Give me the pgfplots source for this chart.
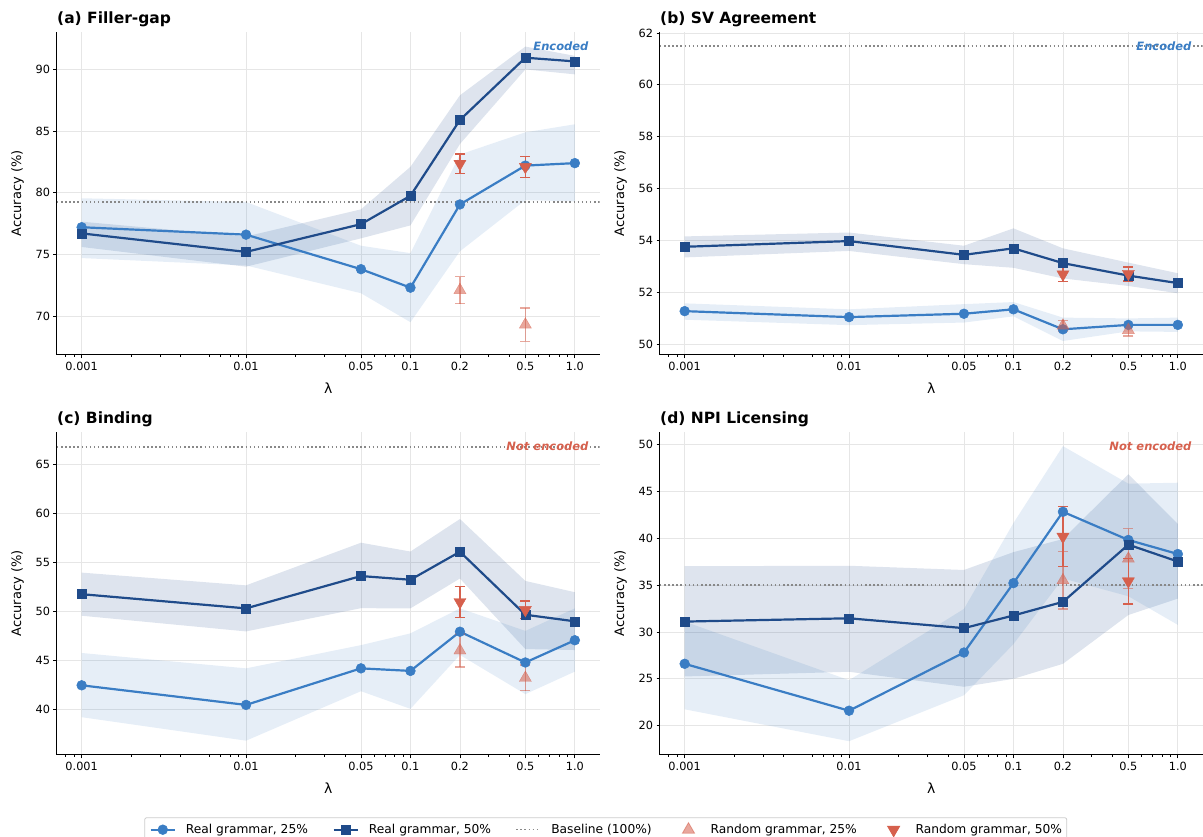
\documentclass[border=0pt]{standalone}
\usepackage{fontspec}
\setmainfont{DejaVu Sans}
\usepackage{pgfplots}
\pgfplotsset{compat=1.18}
\definecolor{cA}{HTML}{3A7DC4}
\definecolor{cB}{HTML}{1F4B8A}
\definecolor{cR}{HTML}{D6604D}
\definecolor{gridc}{HTML}{E6E6E6}
\definecolor{basec}{HTML}{888888}

\pgfplotsset{
 every axis/.append style={
  scale only axis, width=542.5pt, height=323.3pt,
  log basis x=10,
  xmin=0.000708, xmax=1.4125,
  xtick={0.001,0.01,0.05,0.1,0.2,0.5,1},
  xticklabels={0.001,0.01,0.05,0.1,0.2,0.5,1.0},
  minor xtick={0.0008,0.0009,0.002,0.003,0.004,0.006,0.007,0.008,0.009,0.02,0.03,0.04,0.06,0.07,0.08,0.09,0.3,0.4,0.6,0.7,0.8,0.9},
  axis x line*=bottom, axis y line*=left,
  axis line style={line width=1pt, -},
  tick align=outside, major tick length=3.5pt, minor tick length=2pt,
  tick style={line width=0.8pt, black},
  xmajorgrids, ymajorgrids, grid style={gridc, line width=0.8pt},
  tick label style={font=\fontsize{11.3}{13}\selectfont},
  xlabel style={at={(axis description cs:0.5,-0.102)}, anchor=center, font=\fontsize{14}{16}\selectfont},
  ylabel style={at={(axis description cs:-0.0728,0.5)}, anchor=center, font=\fontsize{13}{15}\selectfont},
  title style={at={(axis description cs:0,1)}, anchor=base west, yshift=1.7pt, inner sep=0pt, font=\bfseries\fontsize{15.5}{18}\selectfont},
 },
 /pgf/number format/assume math mode=true,
 sA/.style={cA, line width=2.2pt, mark=*, mark size=4.9pt, mark options={solid, line width=0.5pt}},
 sB/.style={cB, line width=2.2pt, mark=square*, mark size=4.5pt, mark options={solid, line width=0.5pt}},
 fA/.style={fill=cA, fill opacity=0.13, draw=none},
 fB/.style={fill=cB, fill opacity=0.15, draw=none},
 sBase/.style={basec, line width=1.5pt, dash pattern=on 1.5pt off 2.6pt},
}

\begin{document}
\begin{tikzpicture}
% ---------------- (a) Filler-gap
\begin{semilogxaxis}[at={(57pt,482pt)}, anchor=south west, title={(a) Filler-gap},
  xlabel={λ}, ylabel={Accuracy (\%)},
  ymin=66.84, ymax=93.06, ytick={70,75,80,85,90}]
\addplot[forget plot, fA] coordinates {(0.001,79.55)(0.01,79.25)(0.05,75.7)(0.1,75.1)(0.2,83.1)(0.5,84.9)(1,85.55)
  (1,79.3)(0.5,79.4)(0.2,75.25)(0.1,69.5)(0.05,71.85)(0.01,74.1)(0.001,74.7)};
\addplot[forget plot, fB] coordinates {(0.001,77.65)(0.01,76.45)(0.05,78.65)(0.1,82.1)(0.2,87.9)(0.5,91.85)(1,91.1)
  (1,89.6)(0.5,90.0)(0.2,83.95)(0.1,77.35)(0.05,76.3)(0.01,74.0)(0.001,75.6)};
\addplot[forget plot, sBase] coordinates {(0.000708,79.25)(1.4125,79.25)};
\addplot[forget plot, sA] coordinates {(0.001,77.2)(0.01,76.6)(0.05,73.8)(0.1,72.3)(0.2,79.05)(0.5,82.2)(1,82.4)};
\addplot[forget plot, sB] coordinates {(0.001,76.7)(0.01,75.2)(0.05,77.45)(0.1,79.75)(0.2,85.9)(0.5,90.95)(1,90.65)};
\addplot[forget plot, only marks, mark=triangle*, mark size=7pt, color=cR, opacity=0.55,
  error bars/.cd, y dir=both, y explicit, error bar style={line width=1.5pt}, error mark options={rotate=90, mark size=5pt, line width=1.5pt}]
  coordinates {(0.2,72.1) +- (0,1.1) (0.5,69.3) +- (0,1.35)};
\addplot[forget plot, only marks, mark=triangle*, mark size=7pt, mark options={rotate=180}, color=cR,
  error bars/.cd, y dir=both, y explicit, error bar style={line width=1.5pt}, error mark options={rotate=90, mark size=5pt, line width=1.5pt}]
  coordinates {(0.2,82.35) +- (0,0.8) (0.5,82.1) +- (0,0.85)};
\node[anchor=base east, inner sep=0pt, font=\bfseries\itshape\fontsize{11.5}{13}\selectfont, text=cA] at (axis description cs:0.98,0.9406) {Encoded};
\end{semilogxaxis}
% ---------------- (b) SV Agreement
\begin{semilogxaxis}[at={(660pt,482pt)}, anchor=south west, title={(b) SV Agreement},
  xlabel={λ}, ylabel={Accuracy (\%)},
  ymin=49.59, ymax=62.05, ytick={50,52,54,56,58,60,62}]
\addplot[forget plot, fA] coordinates {(0.001,51.58)(0.01,51.35)(0.05,51.55)(0.1,51.63)(0.2,51.03)(0.5,51.0)(1,51.03)
  (1,50.48)(0.5,50.5)(0.2,50.13)(0.1,51.08)(0.05,50.84)(0.01,50.74)(0.001,50.95)};
\addplot[forget plot, fB] coordinates {(0.001,54.16)(0.01,54.31)(0.05,53.8)(0.1,54.47)(0.2,53.7)(0.5,53.15)(1,52.74)
  (1,51.97)(0.5,52.25)(0.2,52.54)(0.1,52.95)(0.05,53.09)(0.01,53.6)(0.001,53.35)};
\addplot[forget plot, sBase] coordinates {(0.000708,61.5)(1.4125,61.5)};
\addplot[forget plot, sA] coordinates {(0.001,51.28)(0.01,51.05)(0.05,51.18)(0.1,51.35)(0.2,50.58)(0.5,50.75)(1,50.75)};
\addplot[forget plot, sB] coordinates {(0.001,53.76)(0.01,53.98)(0.05,53.45)(0.1,53.7)(0.2,53.13)(0.5,52.65)(1,52.36)};
\addplot[forget plot, only marks, mark=triangle*, mark size=7pt, color=cR, opacity=0.55,
  error bars/.cd, y dir=both, y explicit, error bar style={line width=1.5pt}, error mark options={rotate=90, mark size=5pt, line width=1.5pt}]
  coordinates {(0.2,50.72) +- (0,0.2) (0.5,50.55) +- (0,0.22)};
\addplot[forget plot, only marks, mark=triangle*, mark size=7pt, mark options={rotate=180}, color=cR,
  error bars/.cd, y dir=both, y explicit, error bar style={line width=1.5pt}, error mark options={rotate=90, mark size=5pt, line width=1.5pt}]
  coordinates {(0.2,52.7) +- (0,0.28) (0.5,52.72) +- (0,0.27)};
\node[anchor=base east, inner sep=0pt, font=\bfseries\itshape\fontsize{11.5}{13}\selectfont, text=cA] at (axis description cs:0.98,0.9406) {Encoded};
\end{semilogxaxis}
% ---------------- (c) Binding
\begin{semilogxaxis}[at={(57pt,82pt)}, anchor=south west, title={(c) Binding},
  xlabel={λ}, ylabel={Accuracy (\%)},
  ymin=35.34, ymax=68.33, ytick={40,45,50,55,60,65},
  legend columns=5,
  legend style={at={(axis description cs:0.161,-0.1927)}, anchor=north west,
    draw=black!20, line width=0.8pt, rounded corners=2pt, fill=white,
    font=\fontsize{12.25}{14}\selectfont, inner xsep=4.7pt, inner ysep=5pt,
    nodes={inner sep=0pt}, column sep=0pt,
    /tikz/every odd column/.append style={column sep=9.8pt},
    /tikz/every even column/.append style={column sep=24.5pt}},
  legend image code/.code={\path[draw=none] (0pt,0pt) -- (24.5pt,0pt);\draw[sharp corners, mark repeat=2, mark phase=2, #1] plot coordinates {(0pt,0pt) (12.25pt,0pt) (24.5pt,0pt)};}]
\addplot[forget plot, fA] coordinates {(0.001,45.75)(0.01,44.18)(0.05,46.55)(0.1,47.75)(0.2,50.3)(0.5,48.0)(1,50.3)
  (1,43.85)(0.5,41.55)(0.2,45.55)(0.1,40.05)(0.05,41.85)(0.01,36.8)(0.001,39.2)};
\addplot[forget plot, fB] coordinates {(0.001,53.95)(0.01,52.65)(0.05,57.0)(0.1,56.1)(0.2,59.42)(0.5,53.1)(1,51.95)
  (1,46.05)(0.5,46.15)(0.2,53.35)(0.1,50.3)(0.05,50.32)(0.01,47.95)(0.001,49.55)};
\addplot[forget plot, sBase] coordinates {(0.000708,66.77)(1.4125,66.77)};
\addplot[forget plot, sA] coordinates {(0.001,42.45)(0.01,40.45)(0.05,44.18)(0.1,43.92)(0.2,47.92)(0.5,44.78)(1,47.05)};
\addplot[forget plot, sB] coordinates {(0.001,51.75)(0.01,50.3)(0.05,53.6)(0.1,53.22)(0.2,56.08)(0.5,49.65)(1,48.98)};
\addplot[forget plot, only marks, mark=triangle*, mark size=7pt, color=cR, opacity=0.55,
  error bars/.cd, y dir=both, y explicit, error bar style={line width=1.5pt}, error mark options={rotate=90, mark size=5pt, line width=1.5pt}]
  coordinates {(0.2,46.0) +- (0,1.7) (0.5,43.2) +- (0,1.3)};
\addplot[forget plot, only marks, mark=triangle*, mark size=7pt, mark options={rotate=180}, color=cR,
  error bars/.cd, y dir=both, y explicit, error bar style={line width=1.5pt}, error mark options={rotate=90, mark size=5pt, line width=1.5pt}]
  coordinates {(0.2,50.95) +- (0,1.6) (0.5,50.15) +- (0,0.9)};
\node[anchor=base east, inner sep=0pt, font=\bfseries\itshape\fontsize{11.5}{13}\selectfont, text=cR] at (axis description cs:0.98,0.9406) {Not encoded};
\addlegendimage{sA}\addlegendentry{Real grammar, 25\%}
\addlegendimage{sB}\addlegendentry{Real grammar, 50\%}
\addlegendimage{sBase}\addlegendentry{Baseline (100\%)}
\addlegendimage{legend image code/.code={\path[draw=none] (0pt,0pt) -- (24.5pt,0pt);\draw[cR, opacity=0.55, mark=triangle*, mark size=7pt] plot coordinates {(12.25pt,0pt)};}}\addlegendentry{Random grammar, 25\%}
\addlegendimage{legend image code/.code={\path[draw=none] (0pt,0pt) -- (24.5pt,0pt);\draw[cR, mark=triangle*, mark size=7pt, mark options={rotate=180}] plot coordinates {(12.25pt,0pt)};}}\addlegendentry{Random grammar, 50\%}
\end{semilogxaxis}
% ---------------- (d) NPI Licensing
\begin{semilogxaxis}[at={(660pt,82pt)}, anchor=south west, title={(d) NPI Licensing},
  xlabel={λ}, ylabel={Accuracy (\%)},
  ymin=16.88, ymax=51.34, ytick={20,25,30,35,40,45,50}]
\addplot[forget plot, fA] coordinates {(0.001,31.1)(0.01,24.85)(0.05,32.45)(0.1,41.6)(0.2,49.8)(0.5,45.8)(1,45.9)
  (1,30.75)(0.5,33.8)(0.2,35.7)(0.1,28.7)(0.05,23.25)(0.01,18.35)(0.001,21.75)};
\addplot[forget plot, fB] coordinates {(0.001,37.0)(0.01,37.05)(0.05,36.6)(0.1,38.5)(0.2,39.9)(0.5,46.8)(1,41.5)
  (1,33.55)(0.5,31.8)(0.2,26.6)(0.1,25.0)(0.05,24.15)(0.01,25.75)(0.001,25.25)};
\addplot[forget plot, sBase] coordinates {(0.000708,35.0)(1.4125,35.0)};
\addplot[forget plot, sA] coordinates {(0.001,26.6)(0.01,21.6)(0.05,27.8)(0.1,35.2)(0.2,42.8)(0.5,39.8)(1,38.3)};
\addplot[forget plot, sB] coordinates {(0.001,31.1)(0.01,31.45)(0.05,30.4)(0.1,31.75)(0.2,33.2)(0.5,39.3)(1,37.5)};
\addplot[forget plot, only marks, mark=triangle*, mark size=7pt, color=cR, opacity=0.55,
  error bars/.cd, y dir=both, y explicit, error bar style={line width=1.5pt}, error mark options={rotate=90, mark size=5pt, line width=1.5pt}]
  coordinates {(0.2,35.5) +- (0,3.05) (0.5,37.8) +- (0,3.2)};
\addplot[forget plot, only marks, mark=triangle*, mark size=7pt, mark options={rotate=180}, color=cR,
  error bars/.cd, y dir=both, y explicit, error bar style={line width=1.5pt}, error mark options={rotate=90, mark size=5pt, line width=1.5pt}]
  coordinates {(0.2,40.15) +- (0,3.2) (0.5,35.4) +- (0,2.4)};
\node[anchor=base east, inner sep=0pt, font=\bfseries\itshape\fontsize{11.5}{13}\selectfont, text=cR] at (axis description cs:0.98,0.9406) {Not encoded};
\end{semilogxaxis}
\pgfresetboundingbox
\useasboundingbox (0pt,0pt) rectangle (1203pt,837pt);
\end{tikzpicture}
\end{document}
